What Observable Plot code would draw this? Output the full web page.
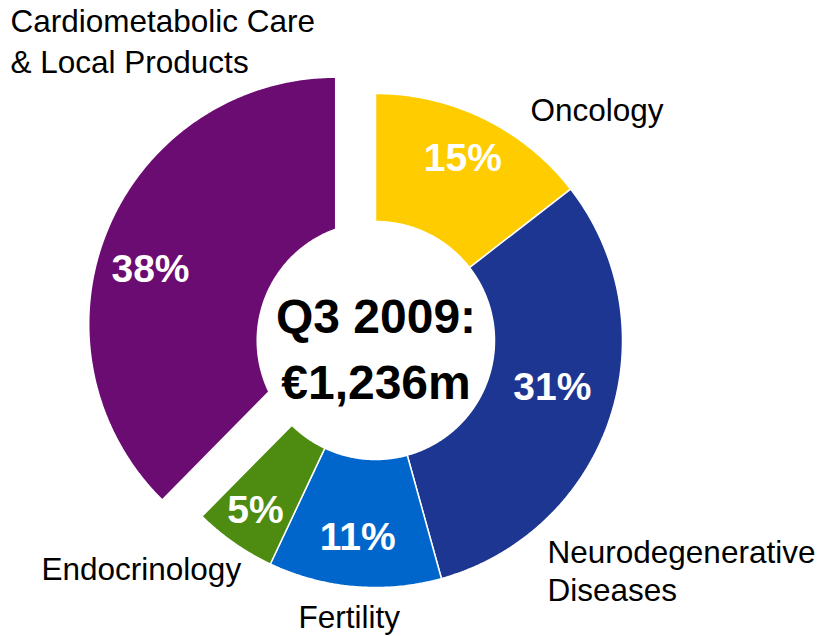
<!DOCTYPE html>
<html>
<head>
<meta charset="utf-8">
<script src="https://cdn.jsdelivr.net/npm/d3@7"></script>
<script src="https://cdn.jsdelivr.net/npm/@observablehq/plot@0.6"></script>
<style>
  html, body { margin: 0; padding: 0; background: #ffffff; }
  #chart { width: 821px; height: 636px; overflow: hidden; }
</style>
</head>
<body>
<div id="chart"></div>
<script>
// ---- data ----
const categories = ["Oncology", "Neurodegenerative Diseases", "Fertility", "Endocrinology", "Cardiometabolic Care & Local Products"];
const shares = [14.5, 31.2, 11.3, 5.4, 37.6];
const displayNames = ["Oncology", "Neurodegenerative\nDiseases", "Fertility", "Endocrinology", "Cardiometabolic Care\n& Local Products"];
const sliceColors = ["#FFCC00", "#1D3692", "#0066CC", "#4D8C10", "#6B0C72"];
const explodedSlices = ["Cardiometabolic Care & Local Products"];
const centerTitle = "Q3 2009:";
const centerValue = "€1,236m";

// ---- geometry (in chart units: 1 unit = 1 px) ----
const R = 247, R0 = 119, EXPLODE = 43;
const polar = (deg, r) => [r * Math.sin(deg * Math.PI / 180), r * Math.cos(deg * Math.PI / 180)];

const total = d3.sum(shares);
let acc = 0;
const slices = categories.map((name, i) => {
  const a0 = acc / total * 360; acc += shares[i];
  const a1 = acc / total * 360;
  const exploded = explodedSlices.includes(name);
  const [ox, oy] = exploded ? polar((a0 + a1) / 2, EXPLODE) : [0, 0];
  return {name, a0, a1, mid: (a0 + a1) / 2, share: shares[i], exploded, ox, oy, label: displayNames[i]};
});

const slicePts = [];
for (const s of slices) {
  const inner = s.exploded ? 0 : R0;
  const n = Math.max(8, Math.ceil((s.a1 - s.a0) * 2));
  for (let k = 0; k <= n; k++) {
    const a = s.a0 + (s.a1 - s.a0) * k / n;
    const [x, y] = polar(a, R);
    slicePts.push({name: s.name, x: x + s.ox, y: y + s.oy});
  }
  if (inner === 0) {
    slicePts.push({name: s.name, x: s.ox, y: s.oy});
  } else {
    for (let k = n; k >= 0; k--) {
      const a = s.a0 + (s.a1 - s.a0) * k / n;
      const [x, y] = polar(a, inner);
      slicePts.push({name: s.name, x: x + s.ox, y: y + s.oy});
    }
  }
}

const discPts = d3.range(0, 360, 1).map(a => { const [x, y] = polar(a, R0); return {x, y}; });

// percent label placement (angle shift, radius) per slice
const pctPlace = {
  "Oncology": [-0.5, 202],
  "Neurodegenerative Diseases": [-3.5, 183],
  "Fertility": [0.3, 198],
  "Endocrinology": [0.3, 208],
  "Cardiometabolic Care & Local Products": [-6, 193]
};
const pctX = s => polar(s.mid + pctPlace[s.name][0], pctPlace[s.name][1])[0] + s.ox;
const pctY = s => polar(s.mid + pctPlace[s.name][0], pctPlace[s.name][1])[1] + s.oy;

// category label placement: [dx, last-baseline dy, lineHeight]
const catPlace = {
  "Oncology": [530, 120, 1.2],
  "Neurodegenerative Diseases": [547, 600, 1.19],
  "Fertility": [298, 627, 1.2],
  "Endocrinology": [41, 579, 1.2],
  "Cardiometabolic Care & Local Products": [10, 72, 1.28]
};

const FONT = "'Liberation Sans', Arial, Helvetica, sans-serif";

const chart = Plot.plot({
  width: 821,
  height: 636,
  margin: 0,
  style: {background: "#ffffff", fontFamily: FONT, overflow: "visible"},
  x: {domain: [-375, 446], axis: null},
  y: {domain: [-296, 340], axis: null},
  color: {domain: categories, range: sliceColors},
  marks: [
    Plot.line(slicePts, {x: "x", y: "y", z: "name", fill: "name", stroke: "#ffffff", strokeWidth: 1.5, strokeLinejoin: "miter", curve: "linear-closed"}),
    Plot.line(discPts, {x: "x", y: "y", fill: "#ffffff", stroke: "none", curve: "linear-closed"}),
    Plot.text(slices, {
      x: pctX, y: pctY,
      text: s => `${Math.round(s.share)}%`,
      fill: "#ffffff", fontSize: 39, fontWeight: "bold", fontFamily: FONT,
      lineAnchor: "middle", textAnchor: "middle"
    }),
    Plot.text([`${centerTitle}\n${centerValue}`], {
      x: () => 0.5, y: () => 0, dy: 58,
      text: d => d, fill: "#000000", fontSize: 48, fontWeight: "bold", fontFamily: FONT,
      lineAnchor: "bottom", lineHeight: 66 / 48, textAnchor: "middle"
    }),
    ...slices.map(s => Plot.text([s.label], {
      frameAnchor: "top-left",
      dx: catPlace[s.name][0], dy: catPlace[s.name][1],
      text: d => d, fill: "#000000", fontSize: 31.5, fontFamily: FONT,
      textAnchor: "start", lineAnchor: "bottom", lineHeight: catPlace[s.name][2]
    }))
  ]
});

document.getElementById("chart").appendChild(chart);
</script>
</body>
</html>
